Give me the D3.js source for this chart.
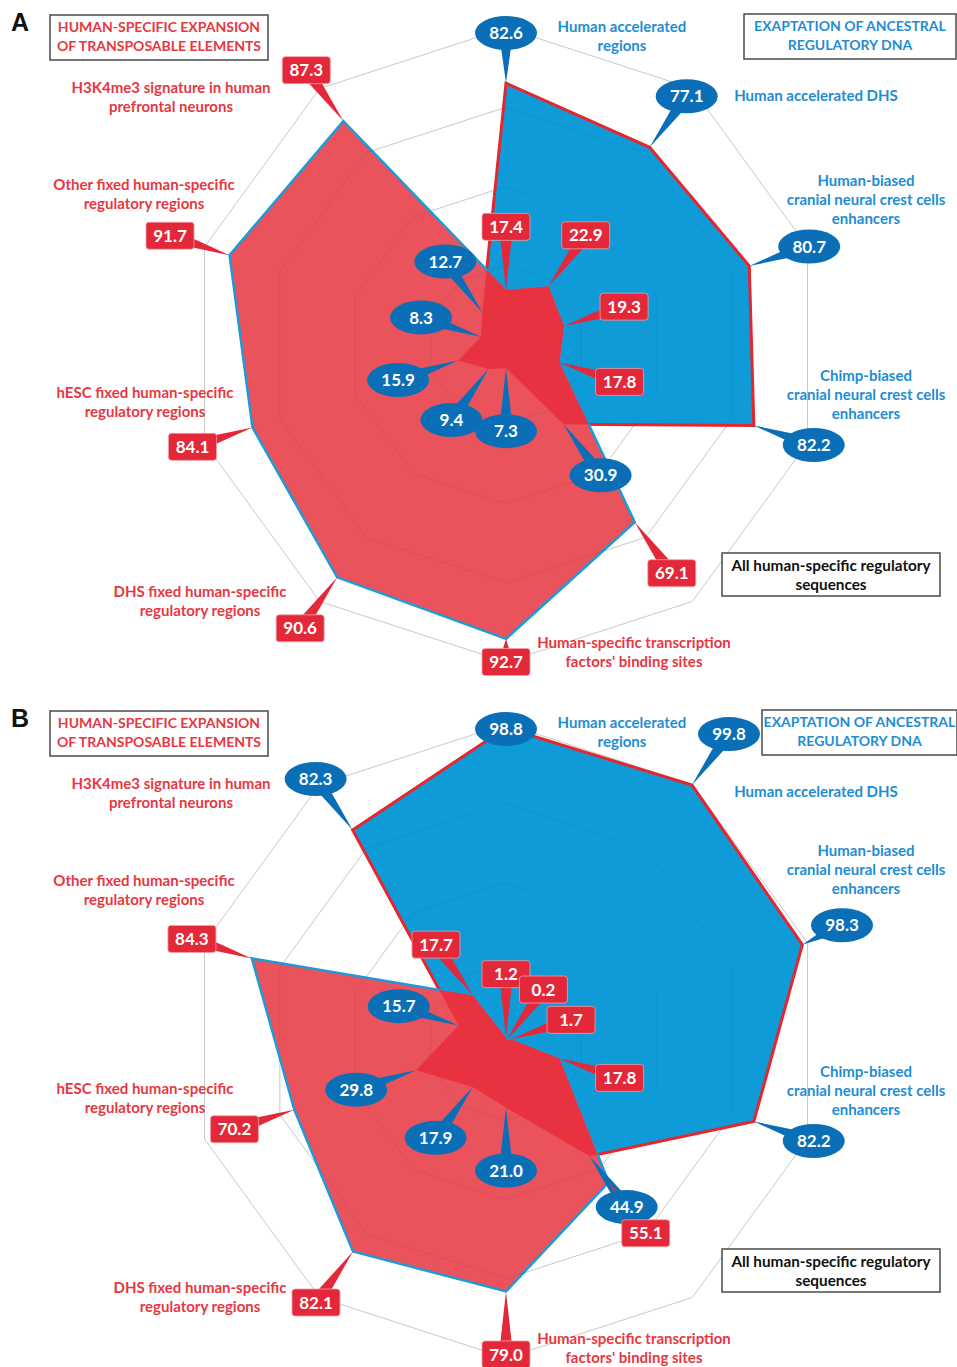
<!DOCTYPE html>
<html>
<head>
<meta charset="utf-8">
<script src="https://d3js.org/d3.v7.min.js"></script>
<style>
body, html {
  margin: 0;
  padding: 0;
  background: #fff;
}
svg text {
  font-family: Lato, "Open Sans", sans-serif;
  font-weight: 700;
}
.grid {
  fill: none;
  stroke: #d6d6d6;
  stroke-width: 1;
}
.gridTop {
  fill: none;
  stroke: #000;
  stroke-opacity: .06;
  stroke-width: 1;
}
.blueArea {
  fill: #0f9bd8;
  stroke: #e6262f;
  stroke-width: 3;
  stroke-linejoin: miter;
}
.redArea {
  fill: #ea525c;
  stroke: #1c9bd8;
  stroke-width: 2.5;
}
.overlap {
  fill: #e8323f;
}
.box {
  fill: #fff;
  stroke: #4a4a4a;
  stroke-width: 1.5;
}
</style>
</head>
<body>
<div id="chart"></div>
<script>

// values, axes clockwise from the top
var categories = [
  "Human accelerated regions",
  "Human accelerated DHS",
  "Human-biased cranial neural crest cells enhancers",
  "Chimp-biased cranial neural crest cells enhancers",
  "All human-specific regulatory sequences",
  "Human-specific transcription factors' binding sites",
  "DHS fixed human-specific regulatory regions",
  "hESC fixed human-specific regulatory regions",
  "Other fixed human-specific regulatory regions",
  "H3K4me3 signature in human prefrontal neurons"
];
var exaptationA = [82.6, 77.1, 80.7, 82.2, 30.9, 7.3, 9.4, 15.9, 8.3, 12.7];
var transposonA = [17.4, 22.9, 19.3, 17.8, 69.1, 92.7, 90.6, 84.1, 91.7, 87.3];
var exaptationB = [98.8, 99.8, 98.3, 82.2, 44.9, 21.0, 17.9, 29.8, 15.7, 82.3];
var transposonB = [1.2, 0.2, 1.7, 17.8, 55.1, 79.0, 82.1, 70.2, 84.3, 17.7];
var gridLevels = [25, 50, 75, 100];
var seriesTitles = ["HUMAN-SPECIFIC EXPANSION|OF TRANSPOSABLE ELEMENTS", "EXAPTATION OF ANCESTRAL|REGULATORY DNA"];

var width = 957,
    height = 1367,
    blue = "#0b6fb8",
    red = "#e3283a",
    blueText = "#1e8dd4",
    redText = "#e8373f";

// where the axis names sit, relative to the top of a panel
var labelLayout = [
  {lines: ["Human accelerated", "regions"], x: 622, y: 27, color: blueText},
  {lines: ["Human accelerated DHS"], x: 816, y: 96, color: blueText},
  {lines: ["Human-biased", "cranial neural crest cells", "enhancers"], x: 866, y: 181, color: blueText},
  {lines: ["Chimp-biased", "cranial neural crest cells", "enhancers"], x: 866, y: 376, color: blueText},
  {lines: ["All human-specific regulatory", "sequences"], x: 831, y: 566, color: "#111", box: [722, 553, 218, 43]},
  {lines: ["Human-specific transcription", "factors' binding sites"], x: 634, y: 643, color: redText},
  {lines: ["DHS fixed human-specific", "regulatory regions"], x: 200, y: 592, color: redText},
  {lines: ["hESC fixed human-specific", "regulatory regions"], x: 145, y: 393, color: redText},
  {lines: ["Other fixed human-specific", "regulatory regions"], x: 144, y: 185, color: redText},
  {lines: ["H3K4me3 signature in human", "prefrontal neurons"], x: 171, y: 88, color: redText}
];

var panels = [
  {letter: "A", top: 0, blue: exaptationA, red: transposonA, blueBox: [744, 14, 212, 45], shift: {}},
  {letter: "B", top: 696, blue: exaptationB, red: transposonB, blueBox: [762, 710, 195, 45], shift: {2: -26}}
];

var svg = d3.select("#chart").append("svg")
  .attr("width", width)
  .attr("height", height);

var defs = svg.append("defs");

var r = d3.scaleLinear().domain([0, 100]).range([0, 317]);
var step = 2 * Math.PI / categories.length;

var radial = d3.lineRadial()
  .angle(function(d, i) { return i * step; })
  .radius(function(d) { return r(d); })
  .curve(d3.curveLinearClosed);

function drawPanel(p, k) {
  var cx = 506, cy = p.top + 345;
  var g = svg.append("g");
  var plot = g.append("g").attr("transform", "translate(" + cx + "," + cy + ")");

  // grid rings
  plot.selectAll("path.grid").data(gridLevels).enter().append("path")
    .attr("class", "grid")
    .attr("d", function(lv) { return radial(categories.map(function() { return lv; })); });

  var clipId = "clip" + k;
  defs.append("clipPath").attr("id", clipId)
    .append("path")
    .attr("transform", "translate(" + cx + "," + cy + ")")
    .attr("d", radial(p.blue));

  plot.append("path").attr("class", "blueArea").attr("d", radial(p.blue));
  plot.append("path").attr("class", "redArea").attr("d", radial(p.red));
  g.append("g").attr("clip-path", "url(#" + clipId + ")")
    .append("path")
    .attr("class", "overlap")
    .attr("transform", "translate(" + cx + "," + cy + ")")
    .attr("d", radial(p.red));

  plot.selectAll("path.gridTop").data(gridLevels).enter().append("path")
    .attr("class", "gridTop")
    .attr("d", function(lv) { return radial(categories.map(function() { return lv; })); });

  // value callouts: pointers first, then the bubbles on top
  var pointerLayer = g.append("g"), bubbleLayer = g.append("g");
  function callouts(values, color, shape) {
    values.forEach(function(v, i) {
      var a = i * step;
      var px = cx + r(v) * Math.sin(a), py = cy - r(v) * Math.cos(a);
      var lx = px + 63 * Math.sin(a), ly = py - 63 * Math.cos(a);
      lx = Math.max(cx - 336, Math.min(cx + 336, lx));
      ly = Math.max(cy - 312, Math.min(cy + 317, ly));
      var dx = px - lx, dy = py - ly, len = Math.sqrt(dx * dx + dy * dy) || 1;
      var nx = -dy / len * 7, ny = dx / len * 7;
      pointerLayer.append("path")
        .attr("d", "M" + (lx + nx) + "," + (ly + ny) + "L" + px + "," + py + "L" + (lx - nx) + "," + (ly - ny) + "Z")
        .attr("fill", color);
      var c = bubbleLayer.append("g");
      if (shape === "ellipse") {
        c.append("ellipse")
          .attr("cx", lx).attr("cy", ly)
          .attr("rx", 31).attr("ry", 17)
          .attr("fill", color);
      } else {
        c.append("rect")
          .attr("x", lx - 24).attr("y", ly - 13.5)
          .attr("width", 48).attr("height", 27)
          .attr("rx", 3)
          .attr("fill", color)
          .attr("stroke", "#f3a0a4")
          .attr("stroke-width", 0.8);
      }
      c.append("text")
        .attr("x", lx).attr("y", ly)
        .attr("dy", "0.36em")
        .attr("text-anchor", "middle")
        .attr("fill", "#fff")
        .style("font-size", "17px")
        .text(d3.format(".1f")(v));
    });
  }
  callouts(p.blue, blue, "ellipse");
  callouts(p.red, red, "rect");

  // axis names
  labelLayout.forEach(function(lb, i) {
    var sy = p.shift[i] || 0;
    if (lb.box) {
      g.append("rect").attr("class", "box")
        .attr("x", lb.box[0]).attr("y", p.top + lb.box[1])
        .attr("width", lb.box[2]).attr("height", lb.box[3]);
    }
    lb.lines.forEach(function(line, j) {
      g.append("text")
        .attr("x", lb.x)
        .attr("y", p.top + lb.y + sy + j * 19)
        .attr("dy", "0.35em")
        .attr("text-anchor", "middle")
        .attr("fill", lb.color)
        .style("font-size", lb.box ? "15.3px" : "15px")
        .text(line);
    });
  });

  // series title boxes
  var boxes = [
    {b: [50, p.top + 15, 218, 45], text: seriesTitles[0], color: redText},
    {b: p.blueBox, text: seriesTitles[1], color: blueText}
  ];
  boxes.forEach(function(bx) {
    g.append("rect").attr("class", "box")
      .attr("x", bx.b[0]).attr("y", bx.b[1])
      .attr("width", bx.b[2]).attr("height", bx.b[3]);
    bx.text.split("|").forEach(function(line, j) {
      g.append("text")
        .attr("x", bx.b[0] + bx.b[2] / 2)
        .attr("y", bx.b[1] + 12.5 + j * 19)
        .attr("dy", "0.35em")
        .attr("text-anchor", "middle")
        .attr("fill", bx.color)
        .style("font-size", "14px")
        .text(line);
    });
  });

  g.append("text")
    .attr("x", 11).attr("y", p.top + 31)
    .style("font-family", "'Liberation Sans', Arial, sans-serif")
    .style("font-size", "25px")
    .attr("fill", "#111")
    .text(p.letter);
}

panels.forEach(drawPanel);

</script>
</body>
</html>
